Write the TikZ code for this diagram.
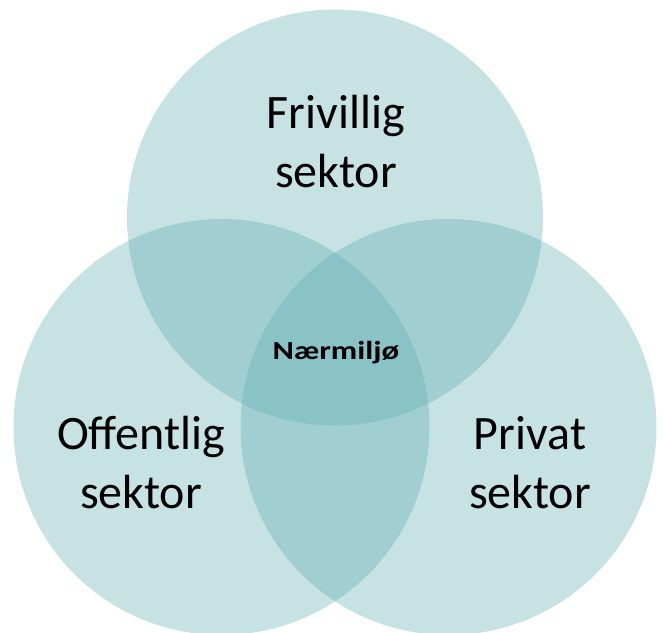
\documentclass[tikz,border=0pt]{standalone}
\usepackage{fontspec}
\setmainfont{Carlito}
\usepackage{tikz}
\usetikzlibrary{positioning}
\definecolor{sTeal}{HTML}{5CACAF}
\tikzset{sektor/.style={fill=sTeal, fill opacity=.35}}
\tikzset{lbl/.style={align=center, inner sep=0pt,
  font=\fontsize{48}{59}\selectfont}}
\tikzset{midt/.style={inner sep=0pt, font=\fontsize{26}{30}\selectfont\bfseries}}

\begin{document}
\begin{tikzpicture}[x=1pt,y=-1pt]
        \useasboundingbox (0,0) rectangle (664,632);
        %% the three sectors
        \fill[sektor] (335,217.5) circle (208);
        \fill[sektor] (221.5,427) circle (208);
        \fill[sektor] (448.5,427) circle (208);
        %% labels
        \node (friv) at (336,142) [lbl] {Frivillig\\sektor};
        \node (off) at (141,463) [lbl] {Offentlig\\sektor};
        \node (priv) at (530,463) [lbl] {Privat\\sektor};
        \node (naer) at (336,359) [midt, anchor=base] {\scalebox{1.25}[1]{Nærmiljø}};
\end{tikzpicture}
\end{document}
